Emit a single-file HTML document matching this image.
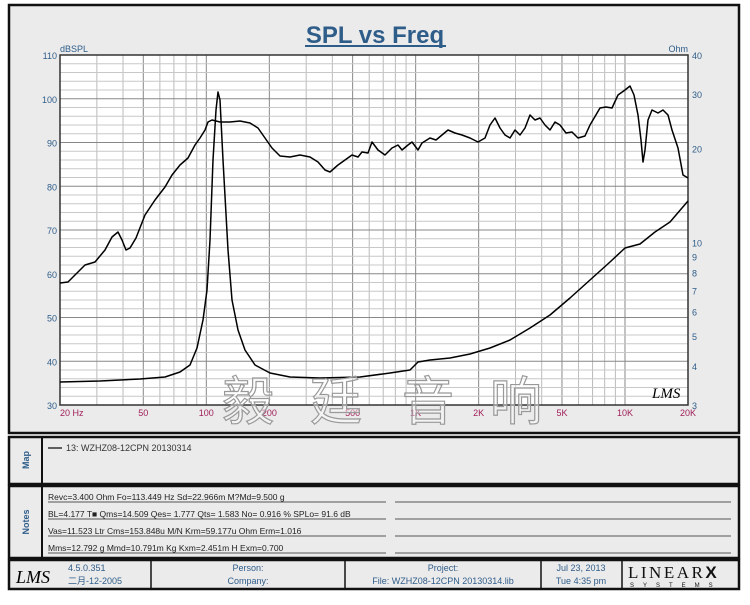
<!DOCTYPE html>
<html><head><meta charset="utf-8"><style>
body{margin:0;background:#fff;width:750px;height:600px;overflow:hidden;font-family:"Liberation Sans","Noto Sans CJK SC",sans-serif}
</style></head><body>
<svg id="s" width="750" height="600" xmlns="http://www.w3.org/2000/svg" font-family="Liberation Sans, Noto Sans CJK SC, sans-serif">
<rect x="0" y="0" width="750" height="600" fill="#fff"/>
<rect x="9" y="5" width="730" height="428" fill="#ebebeb" stroke="#111" stroke-width="2.5"/>
<text x="375" y="43" text-anchor="middle" font-size="24" font-weight="bold" fill="#2f5d8a">SPL vs Freq</text>
<line x1="305" y1="46" x2="446" y2="46" stroke="#2f5d8a" stroke-width="2"/>
<rect x="60" y="55" width="628" height="350" fill="#fff"/>
<g id="grid"></g>
<rect x="60" y="55" width="628" height="350" fill="none" stroke="#333" stroke-width="1.5"/>
<text x="60" y="52" font-size="9" fill="#2f5d8a">dBSPL</text>
<text x="688" y="52" text-anchor="end" font-size="9" fill="#2f5d8a">Ohm</text>
<g id="curves" fill="none" stroke="#000" stroke-width="1.5" stroke-linejoin="round"></g>
<g id="wm" font-size="52" fill="#fff" fill-opacity="0.4" stroke="#999" stroke-width="1.2" font-family="WenQuanYi Zen Hei, Noto Sans CJK SC, sans-serif">
<text x="222" y="420">毅</text><text x="310" y="420">廷</text><text x="402" y="420">音</text><text x="490" y="420">响</text></g>
<text x="652" y="398" font-size="15" font-style="italic" font-family="Liberation Serif,serif">LMS</text>
<rect x="9" y="437" width="730" height="47" fill="#ebebeb" stroke="#111" stroke-width="2.5"/>
<rect x="9" y="486" width="730" height="72" fill="#ebebeb" stroke="#111" stroke-width="2.5"/>
<line x1="42" y1="437" x2="42" y2="484" stroke="#111" stroke-width="2"/>
<line x1="42" y1="486" x2="42" y2="558" stroke="#111" stroke-width="2"/>
<text transform="translate(29,460) rotate(-90)" text-anchor="middle" font-size="9" font-weight="bold" fill="#2f5d8a">Map</text>
<text transform="translate(29,522) rotate(-90)" text-anchor="middle" font-size="9" font-weight="bold" fill="#2f5d8a">Notes</text>
<line x1="48" y1="448" x2="62" y2="448" stroke="#000" stroke-width="1.2"/>
<text x="66" y="451" font-size="9" fill="#333">13: WZHZ08-12CPN   20130314</text>
<g font-size="8.5" fill="#222">
<text x="48" y="500">Revc=3.400 Ohm  Fo=113.449 Hz  Sd=22.966m M?Md=9.500 g</text>
<text x="48" y="517">BL=4.177 T■  Qms=14.509  Qes= 1.777  Qts= 1.583  No= 0.916 %  SPLo= 91.6 dB</text>
<text x="48" y="534">Vas=11.523 Ltr  Cms=153.848u M/N  Krm=59.177u Ohm  Erm=1.016</text>
<text x="48" y="551">Mms=12.792 g  Mmd=10.791m Kg  Kxm=2.451m H  Exm=0.700</text>
</g>
<g stroke="#555" stroke-width="1">
<line x1="48" y1="502" x2="386" y2="502"/><line x1="395" y1="502" x2="731" y2="502"/>
<line x1="48" y1="519" x2="386" y2="519"/><line x1="395" y1="519" x2="731" y2="519"/>
<line x1="48" y1="536" x2="386" y2="536"/><line x1="395" y1="536" x2="731" y2="536"/>
<line x1="48" y1="553" x2="386" y2="553"/><line x1="395" y1="553" x2="731" y2="553"/>
</g>
<rect x="9" y="560" width="730" height="29" fill="#ebebeb" stroke="#111" stroke-width="2.5"/>
<g stroke="#111" stroke-width="1.5"><line x1="151" y1="560" x2="151" y2="589"/><line x1="345" y1="560" x2="345" y2="589"/><line x1="541" y1="560" x2="541" y2="589"/><line x1="622" y1="560" x2="622" y2="589"/></g>
<text x="16" y="583" font-size="18" font-style="italic" font-family="Liberation Serif,serif">LMS</text>
<g font-size="9" fill="#2f5d8a">
<text x="68" y="571">4.5.0.351</text><text x="68" y="584">二月-12-2005</text>
<text x="248" y="571" text-anchor="middle">Person:</text><text x="248" y="584" text-anchor="middle">Company:</text>
<text x="443" y="571" text-anchor="middle">Project:</text><text x="443" y="584" text-anchor="middle">File: WZHZ08-12CPN  20130314.lib</text>
<text x="581" y="571" text-anchor="middle">Jul 23, 2013</text><text x="581" y="584" text-anchor="middle">Tue  4:35 pm</text>
</g>
<text x="628" y="578" font-size="17" font-family="Liberation Serif,serif" letter-spacing="2.5" fill="#111">LINEAR<tspan font-weight="bold" font-family="Liberation Sans,sans-serif">X</tspan></text>
<text x="630" y="587" font-size="6" letter-spacing="9" fill="#111">SYSTEMS</text>
</svg>
<script>
var NS="http://www.w3.org/2000/svg",g=document.getElementById('grid');
function el(p,t,a,txt){var e=document.createElementNS(NS,t);for(var k in a)e.setAttribute(k,a[k]);if(txt)e.textContent=txt;p.appendChild(e);return e;}
var L=60,R=688,T=55,B=405,dec=(R-L)/3;
function fx(f){return L+dec*Math.log10(f/20);}
for(var d=10;d<=10000;d*=10)for(var m=1;m<10;m++){var f=d*m;if(f<20||f>20000)continue;var x=fx(f);
 el(g,'line',{x1:x,y1:T,x2:x,y2:B,stroke:(m==1||m==2||m==5)?'#888':'#bbb','stroke-width':1});}
for(var v=30;v<=110;v+=2){var y=B-(v-30)*350/80;el(g,'line',{x1:L,y1:y,x2:R,y2:y,stroke:v%10==0?'#888':'#c8c8c8','stroke-width':1});
 if(v%10==0)el(g,'text',{x:57,y:y+4,'text-anchor':'end','font-size':9,fill:'#2f5d8a'},''+v);}
var fl=[[20,'20  Hz'],[50,'50'],[100,'100'],[200,'200'],[500,'500'],[1000,'1K'],[2000,'2K'],[5000,'5K'],[10000,'10K'],[20000,'20K']];
fl.forEach(function(a){var x=fx(a[0]);el(g,'text',{x:x,y:416,'text-anchor':a[0]==20?'start':'middle','font-size':9,fill:'#a0205a'},a[1]);});
var oh=[3,4,5,6,7,8,9,10,20,30,40];var pd=350/Math.log10(40/3);
oh.forEach(function(o){var y=T+pd*Math.log10(40/o);el(g,'text',{x:692,y:y+4,'font-size':9,fill:'#2f5d8a'},''+o);});
var c=document.getElementById('curves');
var spl=[[60,283],[68,282],[75,275],[85,265],[95,262],[105,250],[112,237],[118,232],[122,240],[126,250],[130,248],[136,238],[145,215],[155,200],[165,187],[172,175],[180,165],[188,158],[195,145],[200,138],[205,130],[208,122],[212,120],[220,122],[230,122],[240,121],[250,123],[258,128],[265,138],[272,148],[280,156],[290,157],[300,155],[310,157],[318,162],[325,170],[330,172],[338,165],[345,160],[352,155],[358,157],[362,152],[368,153],[372,142],[378,150],[385,155],[392,148],[398,145],[402,150],[408,145],[412,142],[418,150],[422,143],[430,138],[436,140],[442,135],[448,130],[455,133],[462,135],[470,138],[478,142],[485,138],[490,125],[495,118],[500,128],[505,135],[510,138],[515,130],[520,135],[525,128],[530,115],[535,120],[540,118],[545,125],[550,130],[555,122],[560,125],[566,133],[572,132],[578,138],[585,136],[590,125],[600,108],[606,107],[612,108],[618,95],[625,90],[630,86],[634,95],[638,115],[641,140],[643,162],[645,150],[648,120],[652,110],[658,113],[663,110],[668,115],[672,130],[678,148],[683,175],[688,178]];
var imp=[[60,382],[100,381],[140,379],[165,377],[180,372],[190,365],[197,348],[203,320],[207,290],[210,240],[213,160],[216,110],[218,92],[220,100],[223,160],[228,250],[232,300],[238,330],[245,350],[255,365],[270,373],[290,377],[320,378],[360,377],[390,373],[410,370],[418,362],[430,360],[450,358],[470,354],[490,348],[510,340],[530,328],[550,315],[570,298],[590,280],[610,262],[625,248],[640,244],[655,232],[670,222],[688,201]];
[spl,imp].forEach(function(p){el(c,'polyline',{points:p.map(function(q){return q.join(',')}).join(' ')});});
</script>
</body></html>
